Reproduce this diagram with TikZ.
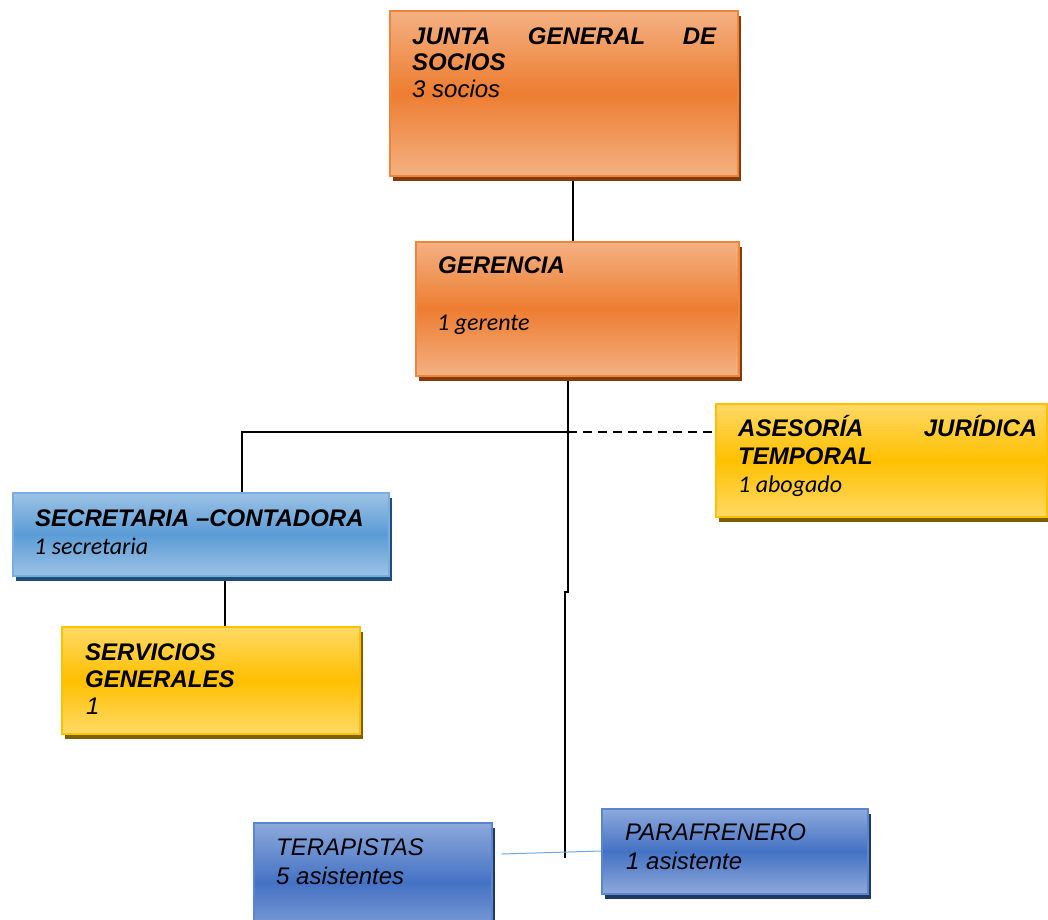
\documentclass[tikz,border=0pt]{standalone}
\usepackage{fontspec}
\newfontfamily\arialf{Liberation Sans}
\newfontfamily\calif{Carlito}
\usetikzlibrary{shadows,calc,backgrounds}
\definecolor{orL}{HTML}{F4B183}
\definecolor{orM}{HTML}{ED7D31}
\definecolor{orB}{HTML}{F0843A}
\definecolor{orS}{HTML}{843C0C}
\definecolor{yeL}{HTML}{FFD966}
\definecolor{yeM}{HTML}{FFC000}
\definecolor{yeS}{HTML}{7F6000}
\definecolor{sbL}{HTML}{9DC3E6}
\definecolor{sbM}{HTML}{5B9BD5}
\definecolor{sbB}{HTML}{7BAEE0}
\definecolor{sbS}{HTML}{1F4E79}
\definecolor{dbL}{HTML}{8EA9DB}
\definecolor{dbM}{HTML}{4472C4}
\definecolor{dbB}{HTML}{5A85D0}
\definecolor{dbS}{HTML}{203864}
\definecolor{linkblue}{HTML}{6FA8DC}
\tikzset{
  box/.style={rectangle, inner sep=0pt, anchor=north west, line width=1.5pt},
  obox/.style={box, draw=orB, top color=orL, bottom color=orL, middle color=orM,
    drop shadow={shadow xshift=3pt, shadow yshift=-5pt, fill=orS, opacity=1}},
  ybox/.style={box, draw=yeM, top color=yeL, bottom color=yeL, middle color=yeM,
    drop shadow={shadow xshift=3pt, shadow yshift=-5pt, fill=yeS, opacity=1}},
  sbox/.style={box, draw=sbB, top color=sbL, bottom color=sbL, middle color=sbM,
    drop shadow={shadow xshift=3pt, shadow yshift=-5pt, fill=sbS, opacity=1}},
  dbox/.style={box, draw=dbB, top color=dbL, bottom color=dbL, middle color=dbM,
    drop shadow={shadow xshift=3pt, shadow yshift=-5pt, fill=dbS, opacity=1}},
  hd/.style={inner sep=0pt, anchor=base west, font=\arialf\bfseries\itshape\fontsize{24}{28}\selectfont},
  sub/.style={inner sep=0pt, anchor=base west, font=\arialf\itshape\fontsize{24}{28}\selectfont},
  subc/.style={inner sep=0pt, anchor=base west, font=\calif\itshape\fontsize{24}{28}\selectfont},
  conn/.style={draw=black, line width=1.6pt},
  dashconn/.style={conn, dash pattern=on 9pt off 6pt},
  link/.style={draw=linkblue, line width=1pt}
}
\begin{document}
\begin{tikzpicture}[x=1pt,y=1pt]
\useasboundingbox (0,0) rectangle (1048,-919);
% boxes
\node[obox, minimum width=348, minimum height=165] (junta) at (389,-10) {};
\node[obox, minimum width=323, minimum height=134] (gerencia) at (415,-241) {};
\node[ybox, minimum width=331, minimum height=113] (asesoria) at (715,-403) {};
\node[sbox, minimum width=376, minimum height=83] (secretaria) at (12,-492) {};
\node[ybox, minimum width=298, minimum height=107] (servicios) at (61,-626) {};
\node[dbox, minimum width=238, minimum height=120] (terapistas) at (253,-822) {};
\node[dbox, minimum width=266, minimum height=85] (parafrenero) at (601,-808) {};
% texts
\node[hd] (jt1) at (412,-44) {\hbox to 304pt{JUNTA\hfill GENERAL\hfill DE}};
\node[hd] (jt2) at (412,-70) {SOCIOS};
\node[sub] (jt3) at (412,-97) {3 socios};
\node[hd] (gt1) at (438,-273) {GERENCIA};
\node[subc] (gt2) at (437,-330) {1 gerente};
\node[hd] (at1) at (738,-436) {\hbox to 299pt{ASESORÍA\hfill JURÍDICA}};
\node[hd] (at2) at (738,-464) {TEMPORAL};
\node[subc] (at3) at (738,-492) {1 abogado};
\node[hd] (st1) at (35,-526) {SECRETARIA –CONTADORA};
\node[subc] (st2) at (34,-554) {1 secretaria};
\node[hd] (vt1) at (85,-660) {SERVICIOS};
\node[hd] (vt2) at (85,-687) {GENERALES};
\node[sub] (vt3) at (86,-714) {1};
\node[sub] (tt1) at (276,-855) {TERAPISTAS};
\node[sub] (tt2) at (276,-884) {5 asistentes};
\node[sub] (pt1) at (625,-840) {PARAFRENERO};
\node[sub] (pt2) at (626,-869) {1 asistente};
% connectors
\begin{scope}[on background layer]
\coordinate (j1) at ($(junta.south)+(9,0)$);
\draw[conn] (j1) -- (j1 |- gerencia.north);
\coordinate (gs) at ($(gerencia.south)+(-9.5,0)$);
\coordinate (hj) at (gs |- 0,-432);
\coordinate (jog) at (gs |- 0,-592);
\coordinate (vend) at (565,-858);
\draw[conn] (gs) -- (jog) -- (jog -| vend) -- (vend);
\coordinate (sl) at ($(secretaria.north)+(41,0)$);
\draw[conn] (hj) -- (sl |- hj) -- (sl);
\draw[dashconn] (hj) -- (hj -| asesoria.west);
\coordinate (ss) at ($(secretaria.south)+(24,0)$);
\draw[conn] (ss) -- (ss |- servicios.north);
\draw[link] ($(terapistas.north east)+(9,-32)$) -- ($(parafrenero.north west)+(0,-43)$);
\end{scope}
\end{tikzpicture}
\end{document}
